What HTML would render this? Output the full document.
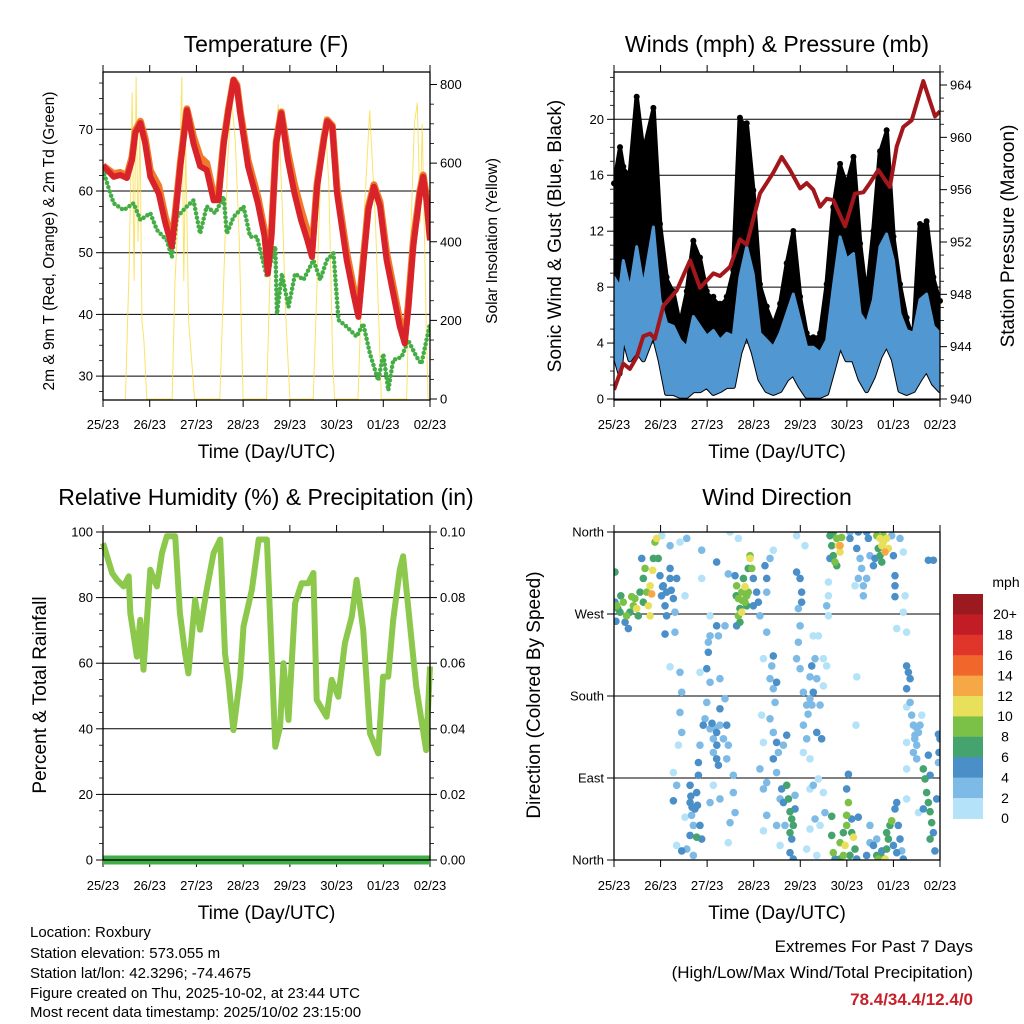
<!DOCTYPE html>
<html><head><meta charset="utf-8"><style>
html,body{margin:0;padding:0;background:#fff;}
svg{display:block;font-family:"Liberation Sans",Arial,sans-serif;}
</style></head><body>
<svg id="fig" width="1024" height="1024" viewBox="0 0 1024 1024" xmlns="http://www.w3.org/2000/svg">
<g id="layer"></g>
</svg>
<script>
// ---------- DATA ----------
const dayLabels = ["25/23","26/23","27/23","28/23","29/23","30/23","01/23","02/23"];
const tempHours = [0,5.5,8.9,12.3,14.9,16.6,19.2,21.7,24.3,28.6,32,35.4,37.1,39.7,43.1,46.5,49.9,53.3,56.8,59.3,62,64.5,67.1,68.8,70.5,74.5,79.6,83,84.7,86.5,89,91.6,95,98.4,101.7,105,107.4,110,113.5,115.2,117.8,120.2,125.2,128.6,131.2,133.9,136.3,139.2,142.3,145.7,149.1,152.5,155,156.8,159.4,162.8,164.5,166.2,168];
const temp2m = [64.1,62.3,62.6,62.1,65,69.4,71,67.7,62.3,59.6,54.8,51,55.8,64,73.1,67.7,64,63.4,58.5,58.5,67.7,73.1,78,76.9,72.6,64,58,52.6,46.6,52.6,67.7,72.6,65,59.6,55.3,52,49.3,60.7,68.3,71.3,70.4,59.6,48.8,43.4,39.6,48.8,56.9,60.7,57.5,48.8,43.4,38,35.3,40.7,51,59.6,62.3,58.5,52];
const temp9m = [64.1,62.8,63,62.5,65.5,69.8,71.3,68.5,63.3,60.8,55.8,52,56.3,64.5,73.3,68.8,65.5,64.5,59.5,59.3,68,73.3,78,77.2,73,65,59,53.5,47.5,53.2,68,72.8,66.2,61,57,53.5,50.5,61.2,68.6,71.5,70.6,60.5,50,44.5,40.5,49.5,57.4,61,58.2,50,44.5,39,36,41.5,51.8,60,62.6,59,52.5];
const tdHours = [0,3.8,5.5,10.6,15.7,19.2,24.3,27.7,32.8,35.4,38,43.1,46.5,49.9,53.3,57.6,62,63.6,67.1,72.2,75.6,79,84.2,88.5,89.4,91.9,95.3,98.7,103,108.1,111.6,115,118.4,121,125.2,130.3,133.7,137.2,141.4,144,146.6,149.1,153.4,156.8,161.1,163.6,168];
const dewpoint = [63.4,59.6,58,56.9,58,55.3,56.4,53.7,52,49.3,55.8,57.5,58.5,53.1,57.5,56.4,59.1,53.1,55.8,57.5,52.6,52.6,46.1,51,40.1,46.6,41.2,46.6,45.6,48.8,45.6,48.8,49.9,39.1,38,36.4,38.5,33.6,29.3,33.6,27.7,32.6,33.1,35.8,33.1,32,38.5];
const solarHours = [11.5,13.5,15,16,17,18,19,20,21,22.5, 35.5,37,39,40.5,41.5,42.5,44,45.5,47, 60,62,64,66,68,70,72, 84,86,88,90,92,94,96, 108,110,112,114,116,118,119, 131,134,137,140,143, 156,158,160,161.5,163,164,166,167];
const solarValues = [0,350,780,300,820,400,700,200,150,0, 0,300,500,820,300,650,200,100,0, 0,300,600,770,650,400,0, 0,350,600,750,500,200,0, 0,300,600,720,550,100,0, 0,450,734,450,0, 0,400,700,754,450,700,200,0];
const windHours = [0,3.1,4.8,8.2,11.7,15.1,20.3,23.7,27.1,30.6,34,37.5,40.9,44.3,47.8,51.2,54.6,58.1,61.5,64.9,68.4,71.8,75.2,78.7,82.1,85.6,89,92.4,95.9,99.3,102.7,106.2,109.6,113,116.5,119.9,123.4,126.8,130.2,133.7,137.1,140.5,144,147.4,150.8,154.3,157.7,161.1,164.6,168];
const windHigh = [8.7,8.0,9.9,7.8,10.9,8.0,12.3,7.1,5.4,5.2,4.2,3.7,5.9,5.2,4.5,4.9,4.2,4.7,4.5,8.7,10.9,8.9,4.7,4.2,3.7,4.7,6.1,7.5,5.6,3.7,3.7,3.3,4.2,8.0,11.6,10.0,10.4,6.1,5.4,7.1,10.9,11.8,9.9,6.1,4.9,4.7,7.1,7.5,5.2,4.7];
const windLow = [3.3,1.8,4.5,2.8,3.5,2.8,4.7,2.8,0.4,0.4,0.2,0.2,0.6,0.6,0.9,0.4,0.6,0.9,0.9,3.3,4.7,3.3,1.4,0.6,0.4,0.6,1.4,1.8,0.9,0.2,0.2,0.2,0.4,2.1,3.9,2.8,2.8,1.4,0.6,1.6,3.0,3.9,2.8,0.6,0.4,0.6,1.4,2.1,1.1,0.6];
const gustHigh = [15.2,17.8,16.4,15.9,21.4,17.5,20.6,12.3,8.5,7.5,5.2,7.5,11.1,9.9,7.5,7.1,6.6,7.1,9.0,19.9,19.5,14.7,8.0,6.4,5.2,6.6,9.5,11.8,7.1,4.5,4.2,4.5,8.0,13.5,16.6,15.2,17.1,10.9,7.1,11.8,17.5,19.0,11.4,8.0,5.6,4.2,12.3,12.5,8.5,6.8];
const pressHours = [0,4.8,8.2,11.7,15.1,18.6,21.1,25.4,32.3,39.2,44.3,51.2,54.6,59.8,64.9,68.4,75.2,82.1,86.4,90.7,95.9,99.3,102.7,106.2,109.6,113,119.1,124.2,128.5,131.9,136.2,142.2,145.7,149.1,153.4,159.4,165.4,168];
const pressure = [940.7,942.7,942.3,943.2,944.8,945,944.6,947.1,948.3,950.6,948.5,949.6,949.4,950.1,952.2,951.8,955.7,957.3,958.5,957.5,956.1,956.5,956,954.7,955.3,955.2,953.2,955.7,955.8,956.5,957.5,956.2,959.3,960.8,961.3,964.3,961.6,962];
const rhHours = [0,2.1,4.7,7.2,10.6,13.2,14.02,17.4,19.1,20.8,24.3,27.7,30.3,32.8,37.1,39.5,42.2,43.9,47.3,49.9,53.3,56.8,60.2,62.7,64.4,67,70.5,72.2,76.5,80,84.2,85.9,88.5,91,92.7,95.3,98.7,102.1,105.5,108.1,109.8,114.9,117.5,120.9,124.3,127.8,130.3,133.7,137.2,141.4,143.9,146.5,149.1,152.5,154.2,160.9,166,168];
const rhValues = [96.6,92.6,87.5,85.4,83.4,86.5,75.3,62,73.2,58,88.5,83.4,93.6,98.7,98.7,75.3,63,56.9,79.3,70.2,82.4,93.6,97.7,63,54.9,39.6,55.9,71.2,82.4,97.7,97.7,73.2,34.5,40.6,60,42.7,78.3,84.4,84.4,87.5,48.8,43.7,54.9,49.8,66.1,74.2,85.4,70.2,38.6,32.5,55.9,55.9,73.2,88.5,92.6,52.9,33.5,59];
const precipTotal = [0,0];
const precipHours = [0,168];
const windDirObs = [
[0.5,316,6],[0.5,283,4],[1.4,279,8],[3.1,272,6],[4.8,283,8],[5.7,261,4],[7.4,254,4],[8.2,272,6],[10,279,8],[11.7,276,10],[10.8,287,8],[13.4,294,6],[14.3,331,4],[15.1,309,6],[16,320,8],[16.8,294,8],[17.7,279,10],[18.6,268,10],[19.4,292,12],[19.9,318,10],[20.3,331,6],[21.1,349,8],[22,353,10],[22.8,331,6],[18.6,301,10],[12.5,268,6],[9.1,289,8],[15.1,283,6],[2,276,6],[6.5,268,8],[3.5,290,6],[1,262,4],
[23.7,312,4],[25.4,301,4],[27.1,294,4],[28.9,309,4],[30.6,287,4],[26.3,279,4],[27.1,268,4],[31.4,272,2],[26.3,248,4],[28.9,345,2],[28.9,320,4],[32.3,309,4],[24.6,356,0],[34,349,0],[37.5,353,2],[36.6,290,0],[31.4,250,2],[24.5,290,4],[25,300,4],[29.5,296,4],
[28.9,212,0],[34,206,2],[34.9,184,2],[34,162,2],[34.9,140,2],[33.2,126,0],[30.6,96,0],[32.3,82,2],[30.6,65,4],[39.2,82,4],[39.2,63,4],[40,49,2],[40.9,38,2],[39.2,27,4],[37.5,12,2],[32.3,16,0],[43.5,93,4],[42.6,74,4],[41.7,56,4],[44.3,38,4],[45.2,23,4],[42.6,25,6],[36.6,47,0],[34.9,10,4],[40.9,5,2],[39.6,70,4],[40.2,58,4],[43,60,4],
[44.3,206,0],[47.8,210,4],[48.6,239,2],[49.5,246,2],[48.6,228,4],[49.5,195,2],[47.8,173,2],[46.9,155,2],[49.5,144,2],[51.2,133,2],[52.9,140,4],[54.6,148,2],[56.4,133,2],[52.9,111,4],[53.8,104,4],[51.2,118,2],[54.6,166,4],[58.1,148,4],[57.2,177,2],[54.6,199,2],[57.2,257,2],[52.9,257,4],[53.8,246,2],[58.9,126,2],[58.1,111,2],[61.5,93,2],[61.5,74,2],[62.4,52,2],[59.8,41,2],[58.9,19,0],[54.6,67,2],[51.2,82,0],[49.5,63,2],[46,148,4],[44.3,126,2],[43.5,107,4],[49.5,268,0],[45.2,309,0],[52.9,327,4],[45.2,340,2],[50.5,150,4],[52,145,2],[53,126,4],
[62.4,312,4],[63.2,301,8],[64.1,287,8],[64.9,276,6],[64.1,268,8],[65.8,294,8],[66.7,309,6],[67.5,300,10],[68.4,290,8],[68.4,279,6],[69.2,320,6],[70.1,331,10],[71,320,8],[70.1,334,8],[67.5,283,8],[64.9,261,6],[63.2,257,4],[71.8,309,4],[73.5,294,4],[74.4,283,4],[71.8,279,4],[65.8,272,10],[69.2,294,8],[58.9,314,2],[59.8,360,0],[64.1,353,0],[63,290,6],[66,285,8],
[75.2,268,2],[77,221,0],[78.7,250,2],[82.1,224,4],[81.3,213,2],[80.4,199,2],[82.1,188,2],[83.8,195,4],[83,173,2],[80.4,155,2],[82.1,140,2],[83.8,129,4],[84.7,118,2],[82.1,111,4],[76.1,159,0],[77,129,0],[75.2,100,2],[78.7,85,2],[77,78,2],[83.8,96,2],[89,137,4],[87.3,126,2],[77.8,323,4],[78.7,309,4],[78.7,294,2],[80.4,331,2],[82.1,340,0],[77,32,0],[85.6,16,0],[83.8,38,2],[78.7,49,2],
[86.4,78,4],[87.3,63,4],[89,82,6],[89.9,67,6],[90.7,53,6],[91.6,45,6],[92.4,38,6],[91.6,23,4],[90.7,8,4],[92.4,1,4],[88.1,38,2],[85.6,67,2],[93.3,56,4],[93.3,71,2],[90.7,30,6],
[94.1,316,4],[95.9,309,4],[96.7,294,4],[96.7,283,4],[95,276,2],[95.9,257,2],[95,239,2],[94.1,221,2],[95.9,210,2],[97.6,184,2],[99.3,170,2],[101,177,2],[102.7,184,4],[101.9,213,4],[103.6,221,2],[104.5,199,2],[101,201,2],[106.2,170,2],[107.9,191,0],[109.6,213,0],[107.9,221,0],[105.3,246,0],[102.7,246,0],[97.6,148,2],[99.3,133,2],[97.6,118,0],[101,111,0],[104.5,140,4],[107,133,4],[102.7,82,2],[101,78,0],[105.3,89,0],[107.9,74,0],[108.7,52,2],[106.2,38,0],[103.6,45,2],[101,34,0],[104.5,5,0],[99.3,12,0],[94.1,356,0],[98.4,345,0],[110.5,305,0],[110.5,290,0],[110.5,268,0],[109.6,279,2],[125.1,201,0],[124.7,148,0],[102,170,2],[100,160,2],
[111.3,356,6],[112.2,345,6],[113,334,6],[113.9,327,8],[114.8,353,8],[115.6,345,10],[116.5,345,12],[116.5,338,10],[114.8,323,6],[113,360,6],[117.3,354,8],[111.3,331,4],
[112.2,27,6],[113,8,8],[113.9,1,4],[116.5,19,8],[118.2,30,6],[119.1,16,10],[119.9,38,8],[120.8,63,8],[119.9,49,8],[122.5,30,6],[123.4,25,10],[124.2,12,6],[125.1,1,4],[121.6,5,6],[118.2,5,8],[119.9,78,4],[120.8,94,4],[112.2,48,6],[125.9,47,4],[116.5,1,6],[122.5,45,4],
[121.6,353,4],[125.9,360,4],[125.1,342,4],[126.8,331,2],[127.6,320,2],[125.9,309,2],[128.5,301,2],[130.2,309,2],[128.5,290,2],[131.1,353,4],[131.9,334,2],[133.7,323,4],[121.6,360,2],[124.2,301,0],[130.2,360,4],
[135.4,356,8],[137.1,353,10],[138,345,10],[138.8,349,10],[139.7,338,12],[140.5,353,10],[141.4,342,10],[138.8,356,8],[136.2,342,6],[138,327,6],[137.1,334,6],[134.5,331,4],[144,334,4],[144.8,312,4],[144.8,301,4],[144.8,289,4],[143.1,356,2],[147.4,353,2],[149.1,338,0],[150,290,0],[149.1,272,0],[145.7,254,0],[150.8,250,0],
[131.9,19,2],[130.2,5,4],[133.7,16,4],[135.4,5,6],[136.2,1,8],[138,3,6],[139.7,1,10],[140.5,12,6],[141.4,23,6],[142.2,38,6],[140.5,30,6],[143.1,43,8],[144,16,4],[144.8,56,4],[145.7,63,4],[146.5,38,4],[147.4,23,4],[148.3,10,2],[149.1,1,4],[145.7,8,4],[138,10,4],[131.9,38,2],[135.4,23,2],
[150.8,213,4],[151.7,206,4],[152.6,199,4],[150.8,188,4],[152.6,173,2],[150.8,168,0],[153.4,159,2],[154.3,148,2],[155.1,137,2],[156,126,2],[156.9,140,2],[157.7,148,2],[158.6,159,0],[154.3,118,2],[156,111,2],[150.8,129,0],[150.8,100,0],[159.4,100,6],[160.3,89,6],[161.1,74,6],[162,63,6],[162.9,53,6],[163.7,41,6],[164.6,30,4],[162.9,23,6],[165.4,10,4],[162,115,4],[162.9,93,4],[166.3,67,4],[168,133,4],[167.5,118,4],[167.2,107,2],[159.4,56,4],[156.9,52,0],[150.8,67,0],[162,329,4],[164.6,329,4],[167.2,138,4],[155,133,2],[156,145,2]
];
const speedBinLabels = ["0","2","4","6","8","10","12","14","16","18","20+"];
const speedBinColors = ["#b4e2f8","#7dbbe6","#4a8fc7","#45a36e","#7cc147","#e8e05a","#f7a846","#f0662b","#e0352b","#c21d26","#9b1a1f"];
const extremes = "78.4/34.4/12.4/0";

// ---------- HELPERS ----------
const NS = "http://www.w3.org/2000/svg";
const layer = document.getElementById("layer");
function mk(tag, attrs, parent, text) {
  const e = document.createElementNS(NS, tag);
  for (const k in attrs) e.setAttribute(k, attrs[k]);
  if (text !== undefined) e.textContent = text;
  (parent || layer).appendChild(e);
  return e;
}
function linScale(d0, d1, r0, r1) { return v => r0 + (v - d0) * (r1 - r0) / (d1 - d0); }
function pts(xs, ys, sx, sy) { return xs.map((h, i) => sx(h).toFixed(1) + "," + sy(ys[i]).toFixed(1)).join(" "); }

function panelFrame(g, L, T, R, B, name) {
  const r = mk("rect", {x: L, y: T, width: R - L, height: B - T, fill: "none", stroke: "#000", "stroke-width": 1.3}, g);
  
  
}
function timeAxis(g, L, R, T, B, labelY, titleY, name) {
  const sx = linScale(0, 168, L, R);
  dayLabels.forEach((lab, i) => {
    const x = sx(i * 24);
    mk("line", {x1: x, y1: B, x2: x, y2: B + 7, stroke: "#000", "stroke-width": 1}, g);
    mk("line", {x1: x, y1: T, x2: x, y2: T - 7, stroke: "#000", "stroke-width": 1}, g);
    const t = mk("text", {x: x, y: labelY, "font-size": 13, "text-anchor": "middle"}, g, lab);
    
    
  });
  const tt = mk("text", {x: (L + R) / 2, y: titleY, "font-size": 19, "text-anchor": "middle"}, g, "Time (Day/UTC)");
  
  
  return sx;
}
function title(g, x, y, txt, name) {
  const t = mk("text", {x: x, y: y, "font-size": 23, "text-anchor": "middle"}, g, txt);
  
  
}
function vtitle(g, x, y, txt, size, name) {
  const t = mk("text", {x: x, y: y, "font-size": size, "text-anchor": "middle", transform: "rotate(-90 " + x + " " + y + ")"}, g, txt);
  
  
}
function yTicks(g, vals, labels, sy, side, xEdge, name, grid, L, R, minor) {
  (minor || []).forEach(v => {
    const y = sy(v);
    mk("line", {x1: xEdge, y1: y, x2: side === "left" ? xEdge - 4 : xEdge + 4, y2: y, stroke: "#000", "stroke-width": 0.8}, g);
  });
  vals.forEach((v, i) => {
    const y = sy(v);
    if (grid) mk("line", {x1: L, y1: y, x2: R, y2: y, stroke: "#000", "stroke-width": 1}, g);
    mk("line", {x1: xEdge, y1: y, x2: side === "left" ? xEdge - 7 : xEdge + 7, y2: y, stroke: "#000", "stroke-width": 1}, g);
    const t = mk("text", {x: side === "left" ? xEdge - 10 : xEdge + 10, y: y + 4.5, "font-size": 13, "text-anchor": side === "left" ? "end" : "start"}, g, labels[i]);
    
    
  });
}

// ---------- PANEL 1: TEMPERATURE ----------
(function () {
  const g = mk("g", {});
  
  
  const L = 103, R = 430, T = 72, B = 400;
  const sy = linScale(60, 70, 191, 129.3);
  const sS = linScale(0, 800, 399, 84.5);
  const sx = timeAxis(g, L, R, T, B, 429, 458, "temperature");
  yTicks(g, [30,40,50,60,70], ["30","40","50","60","70"], sy, "left", L, "temperature-y", true, L, R, [27.5,32.5,35,37.5,42.5,45,47.5,52.5,55,57.5,62.5,65,67.5,72.5,75,77.5]);
  yTicks(g, [0,200,400,600,800], ["0","200","400","600","800"], sS, "right", R, "solar-y", false, L, R, [50,100,150,250,300,350,450,500,550,650,700,750]);
  const clip = mk("clipPath", {id: "c1"}, g); mk("rect", {x: L, y: T, width: R - L, height: B - T}, clip);
  const solar = mk("polyline", {points: pts(solarHours, solarValues, sx, sS), fill: "none", stroke: "#f8d936", "stroke-width": 1, opacity: 0.75, "clip-path": "url(#c1)"}, g);
  
  
  const td = mk("polyline", {points: pts(tdHours, dewpoint, sx, sy), fill: "none", stroke: "#45ad45", "stroke-width": 4.5, "stroke-dasharray": "0 4.5", "stroke-linecap": "round", "clip-path": "url(#c1)"}, g);
  
  
  const t9 = mk("polyline", {points: pts(tempHours, temp9m, sx, sy), fill: "none", stroke: "#f07a2a", "stroke-width": 7, "stroke-linejoin": "round", "clip-path": "url(#c1)"}, g);
  
  
  const t2 = mk("polyline", {points: pts(tempHours, temp2m, sx, sy), fill: "none", stroke: "#d9232a", "stroke-width": 6, "stroke-linejoin": "round", "clip-path": "url(#c1)"}, g);
  
  
  panelFrame(g, L, T, R, B, "temperature");
  title(g, 266, 52, "Temperature (F)", "temperature-title");
  vtitle(g, 54, 241, "2m & 9m T (Red, Orange) & 2m Td (Green)", 15.5, "temperature-y-axis-title");
  vtitle(g, 497, 241, "Solar Insolation (Yellow)", 15.5, "solar-y-axis-title");
})();

// ---------- PANEL 2: WINDS ----------
(function () {
  const g = mk("g", {});
  
  
  const L = 614, R = 940, T = 72, B = 400;
  const sy = linScale(0, 20, 399, 119.3);
  const sP = linScale(940, 964, 399, 85);
  const sx = timeAxis(g, L, R, T, B, 429, 458, "winds");
  yTicks(g, [0,4,8,12,16,20], ["0","4","8","12","16","20"], sy, "left", L, "wind-y", true, L, R, [1,2,3,5,6,7,9,10,11,13,14,15,17,18,19,21,22,23]);
  yTicks(g, [940,944,948,952,956,960,964], ["940","944","948","952","956","960","964"], sP, "right", R, "pressure-y", false, L, R, [941,942,943,945,946,947,949,950,951,953,954,955,957,958,959,961,962,963,965]);
  const clip = mk("clipPath", {id: "c2"}, g); mk("rect", {x: L, y: T, width: R - L, height: B - T}, clip);
  const gustPoly = windHours.map((h, i) => sx(h).toFixed(1) + "," + sy(gustHigh[i]).toFixed(1)).concat(windHours.slice().reverse().map((h, j) => { const i = windHours.length - 1 - j; return sx(h).toFixed(1) + "," + sy(windLow[i]).toFixed(1); })).join(" ");
  const gust = mk("polygon", {points: gustPoly, fill: "#000", stroke: "#000", "stroke-width": 5, "stroke-linejoin": "round", "clip-path": "url(#c2)"}, g);
  
  
  windHours.forEach((h, i) => {
    const d = mk("circle", {cx: sx(h), cy: sy(gustHigh[i]) - 3, r: 3, fill: "#000"}, g);
    
    
  });
  const windPoly = windHours.map((h, i) => sx(h).toFixed(1) + "," + sy(windHigh[i]).toFixed(1)).concat(windHours.slice().reverse().map((h, j) => { const i = windHours.length - 1 - j; return sx(h).toFixed(1) + "," + sy(windLow[i]).toFixed(1); })).join(" ");
  const wind = mk("polygon", {points: windPoly, fill: "#5197d1", stroke: "#5197d1", "stroke-width": 3, "stroke-linejoin": "round", "clip-path": "url(#c2)"}, g);
  
  
  const p = mk("polyline", {points: pts(pressHours, pressure, sx, sP), fill: "none", stroke: "#a3171c", "stroke-width": 4, "stroke-linejoin": "round", "clip-path": "url(#c2)"}, g);
  
  
  panelFrame(g, L, T, R, B, "winds");
  title(g, 777, 52, "Winds (mph) & Pressure (mb)", "winds-title");
  vtitle(g, 561, 236, "Sonic Wind & Gust (Blue, Black)", 19, "wind-y-axis-title");
  vtitle(g, 1014, 236, "Station Pressure (Maroon)", 19, "pressure-y-axis-title");
})();

// ---------- PANEL 3: RH ----------
(function () {
  const g = mk("g", {});
  
  
  const L = 103, R = 430, T = 532, B = 860;
  const sy = linScale(0, 100, 860, 532);
  const sPr = linScale(0, 0.1, 860, 532);
  const sx = timeAxis(g, L, R, T, B, 890, 919, "humidity");
  yTicks(g, [0,20,40,60,80,100], ["0","20","40","60","80","100"], sy, "left", L, "rh-y", true, L, R, [5,10,15,25,30,35,45,50,55,65,70,75,85,90,95]);
  yTicks(g, [0,0.02,0.04,0.06,0.08,0.1], ["0.00","0.02","0.04","0.06","0.08","0.10"], sPr, "right", R, "precip-y", false, L, R, [0.005,0.01,0.015,0.025,0.03,0.035,0.045,0.05,0.055,0.065,0.07,0.075,0.085,0.09,0.095]);
  const rh = mk("polyline", {points: pts(rhHours, rhValues, sx, sy), fill: "none", stroke: "#8cc84b", "stroke-width": 6, "stroke-linejoin": "round"}, g);
  
  
  const pr = mk("polyline", {points: pts(precipHours, precipTotal, sx, sPr), fill: "none", stroke: "#41ae48", "stroke-width": 9}, g);
  
  
  panelFrame(g, L, T, R, B, "humidity");
  title(g, 266, 505, "Relative Humidity (%) & Precipitation (in)", "humidity-title");
  vtitle(g, 46, 695, "Percent & Total Rainfall", 19, "rh-y-axis-title");
})();

// ---------- PANEL 4: WIND DIRECTION ----------
(function () {
  const g = mk("g", {});
  
  
  const L = 614, R = 940, T = 532, B = 860;
  const sy = linScale(0, 360, 860, 532);
  const sx = timeAxis(g, L, R, T, B, 890, 919, "direction");
  yTicks(g, [0,90,180,270,360], ["North","East","South","West","North"], sy, "left", L, "direction-y", true, L, R, []);
  const clip = mk("clipPath", {id: "c4"}, g); mk("rect", {x: L, y: T, width: R - L, height: B - T}, clip);
  const sorted = windDirObs.slice().sort((a, b) => a[2] - b[2]);
  sorted.forEach(o => {
    const c = mk("circle", {cx: sx(o[0]), cy: sy(o[1]), r: 3.8, fill: speedBinColors[Math.min(10, Math.round(o[2] / 2))], "clip-path": "url(#c4)"}, g);
    
    
  });
  panelFrame(g, L, T, R, B, "direction");
  title(g, 777, 505, "Wind Direction", "direction-title");
  vtitle(g, 540, 695, "Direction (Colored By Speed)", 19, "direction-y-axis-title");
  const cb = mk("g", {}, g);
  
  
  const boxH = 20.4, top = 594;
  speedBinColors.forEach((col, i) => {
    const k = speedBinColors.length - 1 - i;
    const y = top + i * boxH;
    const r = mk("rect", {x: 953, y: y, width: 30, height: boxH + 0.5, fill: speedBinColors[k]}, cb);
    
    
    const t = mk("text", {x: 1005, y: y + boxH / 2 + 15, "font-size": 14, "text-anchor": "middle"}, cb, speedBinLabels[k]);
    
    
  });
  const u = mk("text", {x: 1006, y: 587, "font-size": 14, "text-anchor": "middle"}, cb, "mph");
  
  
})();

// ---------- FOOTER TEXT ----------
(function () {
  const g = mk("g", {});
  
  
  const lines = ["Location: Roxbury","Station elevation: 573.055 m","Station lat/lon: 42.3296; -74.4675","Figure created on Thu, 2025-10-02, at 23:44 UTC","Most recent data timestamp: 2025/10/02 23:15:00"];
  const ys = [937,958,978,998,1017];
  lines.forEach((s, i) => {
    const t = mk("text", {x: 30, y: ys[i], "font-size": 15}, g, s);
    
    
  });
  const e = mk("g", {});
  
  
  const a = mk("text", {x: 973, y: 952, "font-size": 17, "text-anchor": "end"}, e, "Extremes For Past 7 Days");
  
  
  const b = mk("text", {x: 973, y: 978, "font-size": 17, "text-anchor": "end"}, e, "(High/Low/Max Wind/Total Precipitation)");
  
  
  const c = mk("text", {x: 973, y: 1005, "font-size": 17, "font-weight": "bold", fill: "#c8202a", "text-anchor": "end"}, e, extremes);
  
  
})();
</script>
</body></html>
